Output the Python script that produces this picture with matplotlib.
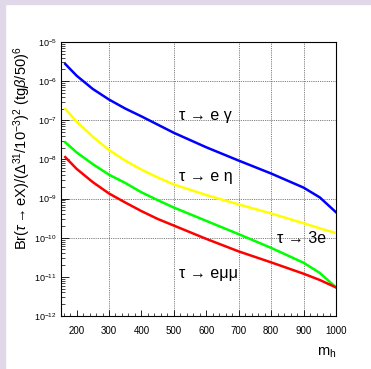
import numpy as np
import matplotlib
matplotlib.use('Agg')
from matplotlib import pyplot as plt
from matplotlib.patches import Rectangle

plt.rcParams['font.family'] = ['Liberation Sans', 'DejaVu Sans']
plt.rcParams['mathtext.fontset'] = 'custom'
plt.rcParams['mathtext.rm'] = 'Liberation Sans'
plt.rcParams['mathtext.it'] = 'Liberation Sans:italic'

# 数据 (log10 of Br)
m_h = [165, 200, 250, 300, 350, 400, 450, 500, 600, 700, 800, 900, 950, 1000]
log_egamma = [-5.56, -5.86, -6.20, -6.47, -6.70, -6.90, -7.11, -7.32, -7.69, -8.03, -8.36, -8.72, -8.97, -9.35]
log_eeta = [-6.71, -7.03, -7.42, -7.76, -8.03, -8.26, -8.46, -8.64, -8.91, -9.15, -9.38, -9.63, -9.76, -9.88]
log_3e = [-7.56, -7.82, -8.12, -8.39, -8.60, -8.84, -9.04, -9.23, -9.57, -9.91, -10.26, -10.64, -10.90, -11.27]
log_emumu = [-7.94, -8.24, -8.58, -8.87, -9.10, -9.32, -9.52, -9.69, -10.03, -10.35, -10.63, -10.92, -11.08, -11.27]

x_labels = [200, 300, 400, 500, 600, 700, 800, 900, 1000]
y_decades = [-12, -11, -10, -9, -8, -7, -6, -5]
x_grid = [300, 500, 700, 800, 900]
y_grid = [1e-6, 1e-7, 1e-9, 1e-10]

# 作图
fig = plt.figure(figsize=(3.71, 3.69), dpi=100)
fig.patches.append(Rectangle((0, 0), 5 / 371, 1, transform=fig.transFigure, color='#e0d8e8', zorder=0))
fig.patches.append(Rectangle((0, 1 - 4 / 369), 1, 4 / 369, transform=fig.transFigure, color='#e0d8e8', zorder=0))

ax = fig.add_axes([61 / 371, 53 / 369, 275 / 371, 274 / 369])
ax.set_yscale('log')
ax.set_xlim(152, 1000)
ax.set_ylim(1e-12, 1e-5)

for xg in x_grid:
    ax.axvline(xg, color='#555555', ls=(0, (1, 1.2)), lw=0.6, zorder=1)
for yg in y_grid:
    ax.axhline(yg, color='#555555', ls=(0, (1, 1.2)), lw=0.6, zorder=1)

ax.plot(m_h, np.power(10.0, log_egamma), c='#0000ff', lw=1.8, zorder=3)
ax.plot(m_h, np.power(10.0, log_eeta), c='#ffff00', lw=1.8, zorder=3)
ax.plot(m_h, np.power(10.0, log_3e), c='#00ff00', lw=1.8, zorder=3)
ax.plot(m_h, np.power(10.0, log_emumu), c='#ff0000', lw=1.8, zorder=3)

fs = 11.5
ax.text(516, 10 ** -6.87, 'τ → e γ', fontsize=fs, va='center', ha='left')
ax.text(516, 10 ** -8.43, 'τ → e η', fontsize=fs, va='center', ha='left')
ax.text(818, 10 ** -10.01, 'τ → 3e', fontsize=fs, va='center', ha='left')
ax.text(516, 10 ** -10.91, 'τ → eμμ', fontsize=fs, va='center', ha='left')

ax.set_xticks(x_labels)
ax.set_xticklabels([str(v) for v in x_labels])
ax.set_xticks(np.arange(160, 1000, 20), minor=True)
ax.set_yticks([10.0 ** d for d in y_decades])
ax.set_yticklabels(['$10^{%d}$' % d for d in y_decades])
ax.set_yticks([k * 10.0 ** d for d in y_decades[:-1] for k in range(2, 10)], minor=True)
ax.tick_params(axis='both', which='both', direction='in', top=False, right=False, labelsize=7)
ax.tick_params(axis='y', labelsize=6.5)
ax.tick_params(axis='x', which='major', length=4, width=0.6, pad=7)
ax.tick_params(axis='x', which='minor', length=2, width=0.5)
ax.tick_params(axis='y', which='major', length=6, width=0.6, pad=3)
ax.tick_params(axis='y', which='minor', length=3, width=0.5)
for s in ax.spines.values():
    s.set_linewidth(0.8)

fig.text(22 / 371, 1 - 46 / 369, r'Br($\tau\rightarrow$eX)/($\Delta^{31}$/10$^{-3}$)$^{2}$ (tg$\beta$/50)$^{6}$',
         rotation=90, ha='center', va='top', fontsize=10.5)
fig.text(336 / 371, 1 - 353 / 369, 'm$_\\mathrm{h}$', ha='right', va='center', fontsize=10.5)

fig.savefig('out.png', dpi=100)
